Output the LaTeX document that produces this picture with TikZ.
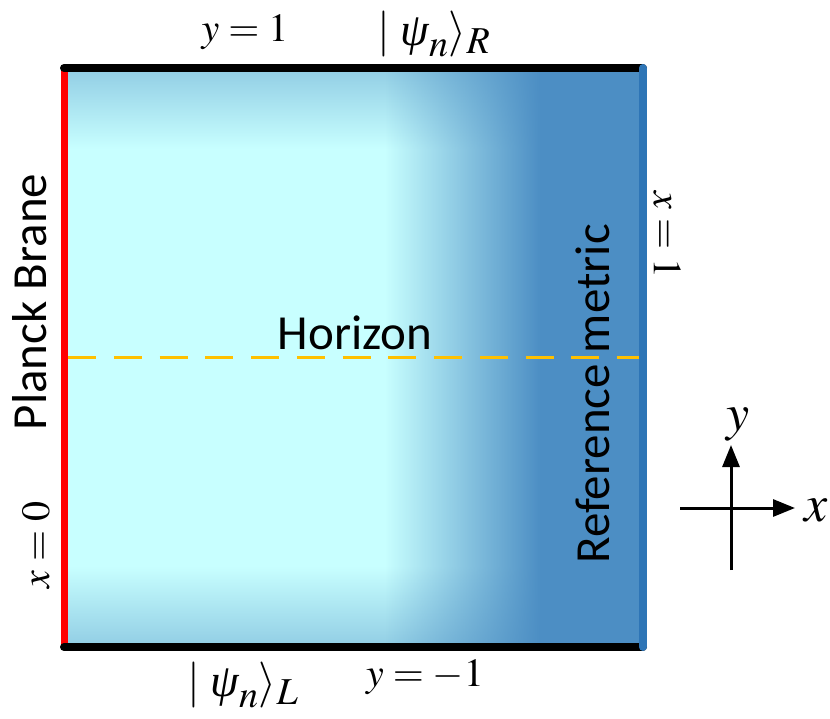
\documentclass[tikz,border=0pt]{standalone}
\usepackage{mathptmx}
\usepackage[no-math]{fontspec}
\newfontfamily\calibri{Carlito}
\newfontfamily\timesfont{Liberation Serif}
\DeclareMathSizes{46}{46}{38}{30}
\usetikzlibrary{arrows.meta,fadings,positioning}
\definecolor{branered}{RGB}{255,0,0}
\definecolor{refblue}{RGB}{46,117,182}
\definecolor{bulkblue}{RGB}{76,142,196}
\definecolor{bulkcyan}{RGB}{200,255,255}
\definecolor{edgeblue}{RGB}{145,205,228}
\definecolor{horizonorange}{RGB}{255,192,0}
\pgfdeclareverticalshading{bulk}{100bp}{color(0bp)=(edgeblue); color(25bp)=(edgeblue);
  color(32bp)=(bulkcyan); color(68bp)=(bulkcyan); color(75bp)=(edgeblue); color(100bp)=(edgeblue)}
% ramp: the bulk spans -25bp..25bp of the fading
\begin{tikzfadingfrompicture}[name=blueramp]
  \fill[transparent!100] (-50bp,-50bp) rectangle (50bp,50bp);
  \shade[left color=transparent!100, right color=transparent!0] (2.7bp,-50bp) rectangle (16.1bp,50bp);
  \fill[transparent!0] (16.1bp,-50bp) rectangle (50bp,50bp);
\end{tikzfadingfrompicture}
\newcommand{\ketpsi}[1]{$|\;\mbox{\timesfont\itshape ψ}_n\rangle_{#1}$}

\begin{document}
\begin{tikzpicture}[x=1pt, y=-1pt,
    edgeline/.style={line width=8pt, line cap=round},
    sanslabel/.style={font=\calibri\fontsize{49}{56}\selectfont, inner sep=0pt},
    mathlabel/.style={font=\fontsize{40}{48}\selectfont, inner sep=0pt},
    ketlabel/.style={font=\fontsize{46}{52}\selectfont, inner sep=0pt},
    axislabel/.style={font=\fontsize{52}{60}\selectfont, inner sep=0pt},
    axisarrow/.style={line width=3pt, -{Triangle[length=22pt, width=17pt]}}]
  \useasboundingbox (0,0) rectangle (830,718);

  % corners of the bulk
  \coordinate (tl) at (64,68);
  \coordinate (tr) at (643,68);
  \coordinate (bl) at (64,647);
  \coordinate (br) at (643,647);

  % bulk colouring
  \shade[shading=bulk] (tl) rectangle (br);
  \fill[bulkblue, path fading=blueramp] (tl) rectangle (br);

  % horizon
  \coordinate (hl) at (68,357);
  \coordinate (hr) at (640,357);
  \draw[horizonorange, line width=3pt, dash pattern=on 28pt off 17.75pt] (hl) -- (hr);

  % boundaries
  \draw[branered, line width=7pt] (tl) -- (bl);
  \draw[edgeline, black] (tl) -- (tr);
  \draw[edgeline, black] (bl) -- (br);
  \draw[edgeline, refblue] (tr) -- (br);

  % labels
  \node[sanslabel] (horizon) at (355,333) {Horizon};
  \node[sanslabel, rotate=90] (planck) at (30,302) {Planck Brane};
  \node[sanslabel, rotate=90] (refmetric) at (593,394) {Reference metric};

  \node[mathlabel] (ytop) at (245,32) {$y=1$};
  \node[ketlabel] (ketR) at (434,34) {\ketpsi{R}};
  \node[ketlabel] (ketL) at (243,685) {\ketpsi{L}};
  \node[mathlabel] (ybot) at (425,677) {$y=-1$};
  \node[mathlabel, rotate=90] (xzero) at (36,545) {$x=0$};
  \node[mathlabel, rotate=-90] (xone) at (667,235) {$x=1$};

  % axes
  \coordinate (ybase) at (731,570);
  \coordinate (ytip) at (731,445);
  \coordinate (xbase) at (680,508);
  \coordinate (xtip) at (795,508);
  \draw[axisarrow] (ybase) -- (ytip);
  \draw[axisarrow] (xbase) -- (xtip);
  \node[axislabel] (ylab) at (738,425) {$y$};
  \node[axislabel] (xlab) at (816,510) {$x$};
\end{tikzpicture}
\end{document}
